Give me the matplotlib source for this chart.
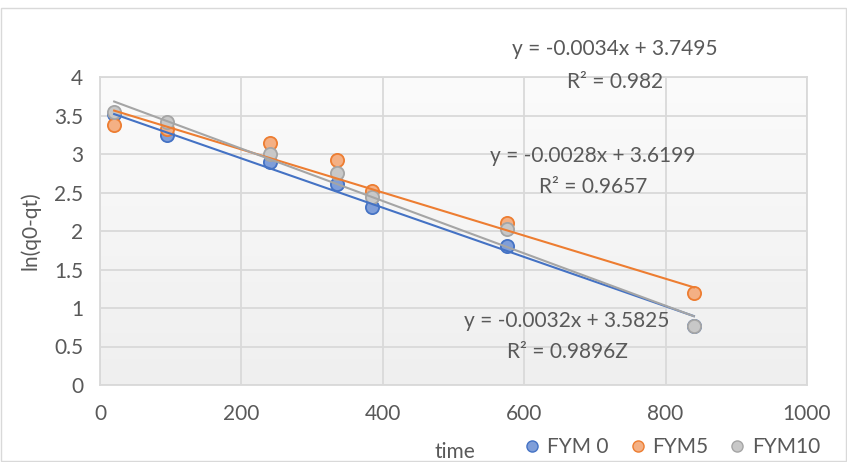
import matplotlib.pyplot as plt
import numpy as np
from matplotlib.patches import Rectangle
from matplotlib.lines import Line2D

plt.rcParams['font.family'] = ['Lato', 'DejaVu Sans']

time = [20, 95, 240, 335, 385, 575, 840]
fym0 = [3.52, 3.25, 2.90, 2.61, 2.31, 1.80, 0.76]
fym5 = [3.38, 3.32, 3.14, 2.92, 2.52, 2.11, 1.19]
fym10 = [3.54, 3.42, 3.00, 2.75, 2.44, 2.02, 0.77]

names = ['FYM 0', 'FYM5', 'FYM10']
slopes = [-0.0032, -0.0028, -0.0034]
intercepts = [3.5825, 3.6199, 3.7495]
r2_text = ['0.9896Z', '0.9657', '0.982']

edge_cols = ['#4472c4', '#ed7d31', '#a5a5a5']
face_cols = ['#7f9ed9', '#f4b084', '#c8c8c8']
txt = '#595959'
fs = 15

fig = plt.figure(figsize=(8.47, 4.62), dpi=100)
ax = fig.add_axes([100/847, 1 - 385/462, 707/847, 308/462])

# outer chart border
fig.patches.append(Rectangle((1/847, 1/462), 845/847, 453/462, transform=fig.transFigure,
                             fill=False, edgecolor='#d9d9d9', lw=1))

# plot area gradient
grad = np.linspace(0, 1, 256).reshape(-1, 1)
ax.imshow(grad, extent=[0, 1, 0, 1], transform=ax.transAxes, aspect='auto',
          cmap=plt.matplotlib.colors.LinearSegmentedColormap.from_list('g', ['#fbfbfb', '#efefef']),
          zorder=0)

series = [fym0, fym5, fym10]
for vals, ec, fc, n in zip(series, edge_cols, face_cols, names):
    ax.plot(time, vals, 'o', ms=9.5, mfc=fc, mec=ec, mew=1.3, zorder=3, label=n)

xs = np.array([time[0], time[-1]])
for m, b, ec in zip(slopes, intercepts, edge_cols):
    ax.plot(xs, m * xs + b, color=ec, lw=1.5, zorder=4)

ax.set_xlim(0, 1000)
ax.set_ylim(0, 4)
ax.set_xticks(np.arange(0, 1001, 200))
ax.set_yticks(np.arange(0, 4.01, 0.5))
ax.set_yticklabels(['0', '0.5', '1', '1.5', '2', '2.5', '3', '3.5', '4'])
ax.grid(True, color='#d9d9d9', lw=1.3)
ax.set_axisbelow(True)
for s in ax.spines.values():
    s.set_color('#d9d9d9')
    s.set_linewidth(1.3)
ax.tick_params(length=0, labelsize=fs, colors=txt)
ax.tick_params(axis='x', pad=14)
ax.tick_params(axis='y', pad=12)

fig.text(455/847, 1 - 452/462, 'time', ha='center', va='center', fontsize=fs, color=txt)
fig.text(30/847, 1 - 231/462, 'ln(q0-qt)', ha='center', va='center', rotation=90,
         fontsize=fs, color=txt)

# trendline labels (blue, orange, gray)
label_pos = [(567, 321, 352), (593, 156, 187), (615, 49, 82)]
for (cx, y1, y2), m, b, r in zip(label_pos, slopes, intercepts, r2_text):
    fig.text(cx/847, 1 - y1/462, 'y = %.4fx + %.4f' % (m, b), ha='center', va='center',
             fontsize=fs, color=txt)
    fig.text(cx/847, 1 - y2/462, 'R² = ' + r, ha='center', va='center',
             fontsize=fs, color=txt)

handles = [Line2D([], [], ls='', marker='o', ms=8, mfc=fc, mec=ec, mew=1)
           for ec, fc in zip(edge_cols, face_cols)]
fig.legend(handles, names, loc='center', bbox_to_anchor=(670/847, 1 - 447/462), ncol=3,
           frameon=False, fontsize=fs, labelcolor=txt, handletextpad=0.1,
           columnspacing=0.8, handlelength=1.2)

fig.savefig('out.png', dpi=100)
